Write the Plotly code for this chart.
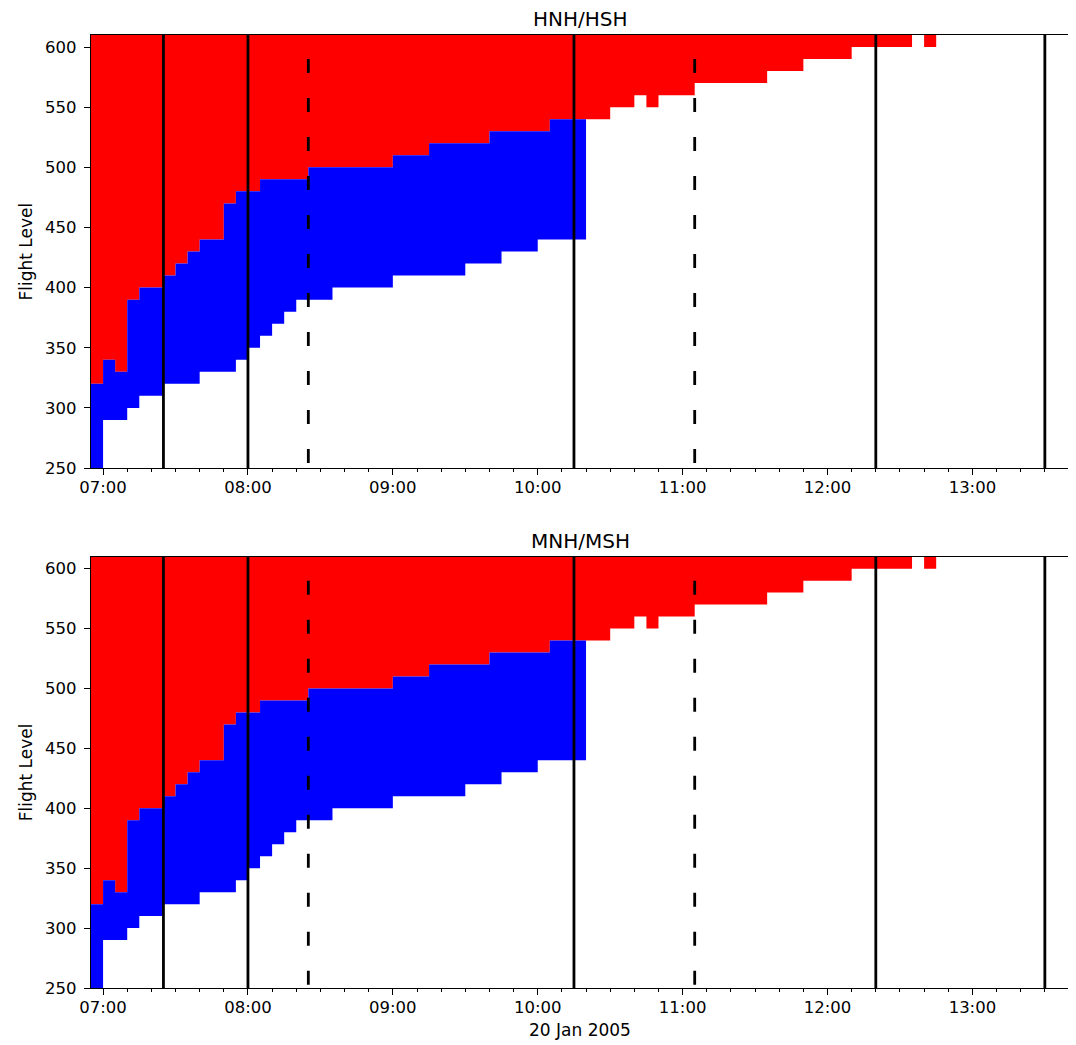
import plotly.graph_objects as go
from datetime import datetime, timedelta

DAY = "2005-01-20"

# ---------------- data ----------------
panel_titles = ["HNH/HSH", "MNH/MSH"]
x_label = "20 Jan 2005"
y_label = "Flight Level"

# Upper (red) band: its lower boundary, constant between consecutive change times
hnh_red_edges = ["06:55", "07:00", "07:05", "07:10", "07:15", "07:25", "07:30", "07:35",
                 "07:40", "07:50", "07:55", "08:05", "08:25", "09:00", "09:15", "09:40",
                 "10:05", "10:30", "10:40", "10:45", "10:50", "11:05", "11:35", "11:50",
                 "12:10", "12:35", "12:40", "12:45"]
hnh_red_lower = [320, 340, 330, 390, 400, 410, 420, 430,
                 440, 470, 480, 490, 500, 510, 520,
                 530, 540, 550, 560, 550, 560, 570, 580,
                 590, 600, None, 600]

# Middle (blue) band: its lower boundary (upper boundary = red lower boundary)
hnh_blue_edges = ["06:55", "07:00", "07:10", "07:15", "07:25", "07:40", "07:55", "08:00",
                  "08:05", "08:10", "08:15", "08:20", "08:35", "09:00", "09:30", "09:45",
                  "10:00", "10:20"]
hnh_blue_lower = [250, 290, 300, 310, 320, 330, 340, 350,
                  360, 370, 380, 390, 400, 410, 420, 430, 440]

# second panel shows the same values
mnh_red_edges = list(hnh_red_edges)
mnh_red_lower = list(hnh_red_lower)
mnh_blue_edges = list(hnh_blue_edges)
mnh_blue_lower = list(hnh_blue_lower)

fl_ceiling = 610
fl_floor = 250
dashed_top = 590

solid_line_times = ["07:25", "08:00", "10:15", "12:20", "13:30"]
dashed_line_times = ["08:25", "11:05"]

x_start, x_end = "06:55", "13:40"
bin_minutes = 5

# ---------------- helpers ----------------
def T(hm):
    return datetime.strptime(f"{DAY} {hm}", "%Y-%m-%d %H:%M")


def iso(d):
    return d.strftime("%Y-%m-%d %H:%M:%S")


def level_at(edges, levels, when):
    for i in range(len(levels)):
        if T(edges[i]) <= when < T(edges[i + 1]):
            return levels[i]
    return None


def band_path(bins, lower, upper):
    segments, seg = [], []
    for (a, b), lo, hi in zip(bins, lower, upper):
        if lo is None or hi is None:
            if seg:
                segments.append(seg)
                seg = []
            continue
        seg.append((a, b, lo, hi))
    if seg:
        segments.append(seg)
    xs, ys = [], []
    for s in segments:
        pts = []
        for a, b, lo, hi in s:
            pts += [(a, hi), (b, hi)]
        for a, b, lo, hi in reversed(s):
            pts += [(b, lo), (a, lo)]
        xs += [iso(p[0]) for p in pts] + [None]
        ys += [p[1] for p in pts] + [None]
    return xs, ys


def panel_traces(red_edges, red_lower, blue_edges, blue_lower, xa, ya):
    start, end = T(red_edges[0]), T(red_edges[-1])
    bins = []
    cur = start
    while cur < end:
        bins.append((cur, cur + timedelta(minutes=bin_minutes)))
        cur += timedelta(minutes=bin_minutes)
    mids = [a + (b - a) / 2 for a, b in bins]
    r_lo = [level_at(red_edges, red_lower, m) for m in mids]
    r_hi = [fl_ceiling if v is not None else None for v in r_lo]
    b_lo = [level_at(blue_edges, blue_lower, m) for m in mids]
    b_hi = [r if b is not None else None for r, b in zip(r_lo, b_lo)]
    out = []
    for lo, hi, col in [(r_lo, r_hi, "#ff0000"), (b_lo, b_hi, "#0000ff")]:
        xs, ys = band_path(bins, lo, hi)
        out.append(go.Scatter(x=xs, y=ys, mode="lines", fill="toself",
                              fillcolor=col, line=dict(width=0, color=col),
                              hoverinfo="skip", showlegend=False,
                              xaxis=xa, yaxis=ya))
    return out


fig = go.Figure()
for tr in panel_traces(hnh_red_edges, hnh_red_lower, hnh_blue_edges, hnh_blue_lower, "x", "y"):
    fig.add_trace(tr)
for tr in panel_traces(mnh_red_edges, mnh_red_lower, mnh_blue_edges, mnh_blue_lower, "x2", "y2"):
    fig.add_trace(tr)

# ---------------- layout ----------------
# the page body has an 8px margin, so the figure is drawn 8px in from the window edge
BODY = 8
W, H = 1076 - BODY, 1045 - BODY
ml, mr, mt, mb = 90.7 - BODY, 5.3, 34.7 - BODY, 1045 - 988.3
ph = H - mt - mb
top_dom = [(988.3 - 468.0) / ph, 1.0]
bot_dom = [0.0, (988.3 - 556.7) / ph]

tick_font = dict(family="DejaVu Sans", size=16.5, color="black")

xcommon = dict(
    type="date",
    range=[iso(T(x_start)), iso(T(x_end))],
    tick0=iso(T("07:00")), dtick=3600000, tickformat="%H:%M",
    ticks="outside", ticklen=6, tickwidth=1.2, tickcolor="black",
    minor=dict(dtick=600000, tick0=iso(T("07:00")), ticks="outside", ticklen=3,
               tickwidth=1, tickcolor="black", showgrid=False),
    showline=True, linecolor="black", linewidth=1.2, mirror=True,
    showgrid=False, zeroline=False, tickfont=tick_font, ticklabelstandoff=-2,
)
ycommon = dict(
    range=[fl_floor, fl_ceiling], tick0=250, dtick=50,
    ticks="outside", ticklen=6, tickwidth=1.2, tickcolor="black",
    showline=True, linecolor="black", linewidth=1.2, mirror=True,
    showgrid=False, zeroline=False, tickfont=tick_font, ticklabelstandoff=4,
)

fig.update_layout(
    width=W, height=H,
    margin=dict(l=ml, r=mr, t=mt, b=mb, pad=0),
    paper_bgcolor="white", plot_bgcolor="white",
    showlegend=False,
    xaxis=dict(xcommon, domain=[0, 1], anchor="y"),
    yaxis=dict(ycommon, domain=top_dom, anchor="x"),
    xaxis2=dict(xcommon, domain=[0, 1], anchor="y2"),
    yaxis2=dict(ycommon, domain=bot_dom, anchor="x2"),
)

shapes = []
for xa, ya in [("x", "y"), ("x2", "y2")]:
    for tm in solid_line_times:
        shapes.append(dict(type="line", xref=xa, yref=ya, x0=iso(T(tm)), x1=iso(T(tm)),
                           y0=fl_floor, y1=fl_ceiling, layer="above",
                           line=dict(color="black", width=2.8)))
    for tm in dashed_line_times:
        shapes.append(dict(type="line", xref=xa, yref=ya, x0=iso(T(tm)), x1=iso(T(tm)),
                           y0=dashed_top, y1=fl_floor, layer="above",
                           line=dict(color="black", width=2.8, dash="14px,25px")))
fig.update_layout(shapes=shapes)

annotations = []
for title, dom in [(panel_titles[0], top_dom), (panel_titles[1], bot_dom)]:
    annotations.append(dict(text=title, xref="paper", yref="paper", x=0.5, y=dom[1],
                            xanchor="center", yanchor="middle", yshift=16, borderpad=0,
                            showarrow=False,
                            font=dict(family="DejaVu Sans", size=20, color="black")))
    annotations.append(dict(text=y_label, xref="paper", yref="paper", x=0,
                            y=(dom[0] + dom[1]) / 2, xanchor="center", yanchor="middle",
                            xshift=-65, textangle=-90, showarrow=False,
                            font=dict(family="DejaVu Sans", size=17, color="black")))
annotations.append(dict(text=x_label, xref="paper", yref="paper", x=0.5, y=0,
                        xanchor="center", yanchor="middle", yshift=-42, showarrow=False,
                        font=dict(family="DejaVu Sans", size=17, color="black")))
fig.update_layout(annotations=annotations)

fig.write_html("out.html")
